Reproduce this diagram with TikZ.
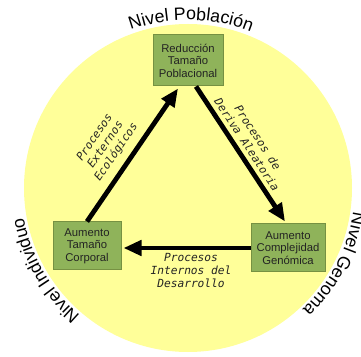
\documentclass[tikz,border=0pt]{standalone}
\usepackage{fontspec}
\setmainfont{Liberation Sans}
\newfontfamily\monofont{DejaVu Sans Mono}
\usetikzlibrary{arrows.meta,decorations.text}
\definecolor{bgyellow}{RGB}{255,255,153}
\definecolor{boxfill}{RGB}{143,179,90}
\definecolor{boxline}{RGB}{118,145,66}
\definecolor{txtdark}{RGB}{35,35,35}
\newcommand{\nivelfont}{\fontsize{17.8pt}{20pt}\selectfont}
\tikzset{
  stagebox/.style={draw=boxline, line width=1pt, fill=boxfill, inner sep=0pt,
    align=center, text=txtdark, font=\fontsize{11.3pt}{12.5pt}\selectfont},
  procarrow/.style={line width=4.8pt, -{Triangle[length=18pt,width=15pt]}},
  proclabel/.style={align=center, text=txtdark,
    font=\monofont\itshape\fontsize{11.2pt}{13pt}\selectfont},
  niveltext/.style={decorate, decoration={text along path, text align=center,
    text={|\nivelfont|#1}}}
}
\begin{document}
\begin{tikzpicture}[x=1pt,y=1pt]
\useasboundingbox (0,0) rectangle (361,356);
\coordinate (C) at (188,168);
\fill[bgyellow] (C) circle[radius=164];

\node[stagebox, minimum width=70pt, minimum height=51pt] (ntop) at (188,295.5)
  {Reducción\\Tamaño\\Poblacional};
\node[stagebox, minimum width=68pt, minimum height=48pt] (nleft) at (87,110)
  {Aumento\\Tamaño\\Corporal};
\node[stagebox, minimum width=74pt, minimum height=48pt] (nright) at (288,108)
  {Aumento\\Complejidad\\Genómica};

\draw[procarrow] (nleft.north) -- ([xshift=-10pt,yshift=-2pt]ntop.south);
\draw[procarrow] ([xshift=8pt]ntop.south) -- ([xshift=-3pt,yshift=2pt]nright.north);
\draw[procarrow] (nright.west) -- ([xshift=2pt]nright.west -| nleft.east);

\node[proclabel, rotate=55.7] (lext) at (105.8,211) {Procesos\\Externos\\Ecológicos};
\node[proclabel, rotate=-56.6] (lder) at (252.5,215) {Procesos de\\Deriva Aleatoria};
\node[proclabel] (lint) at (191,86) {Procesos\\Internos del\\Desarrollo};

\path[niveltext={Nivel Población}] (C) ++(129:168) arc[start angle=129, end angle=49, radius=168];
\path[niveltext={Nivel Individuo}] (C) ++(250:167) arc[start angle=250, end angle=170, radius=167];
\path[niveltext={Nivel Genoma}] (C) ++(12.5:167) arc[start angle=12.5, end angle=-67.5, radius=167];
\end{tikzpicture}
\end{document}
